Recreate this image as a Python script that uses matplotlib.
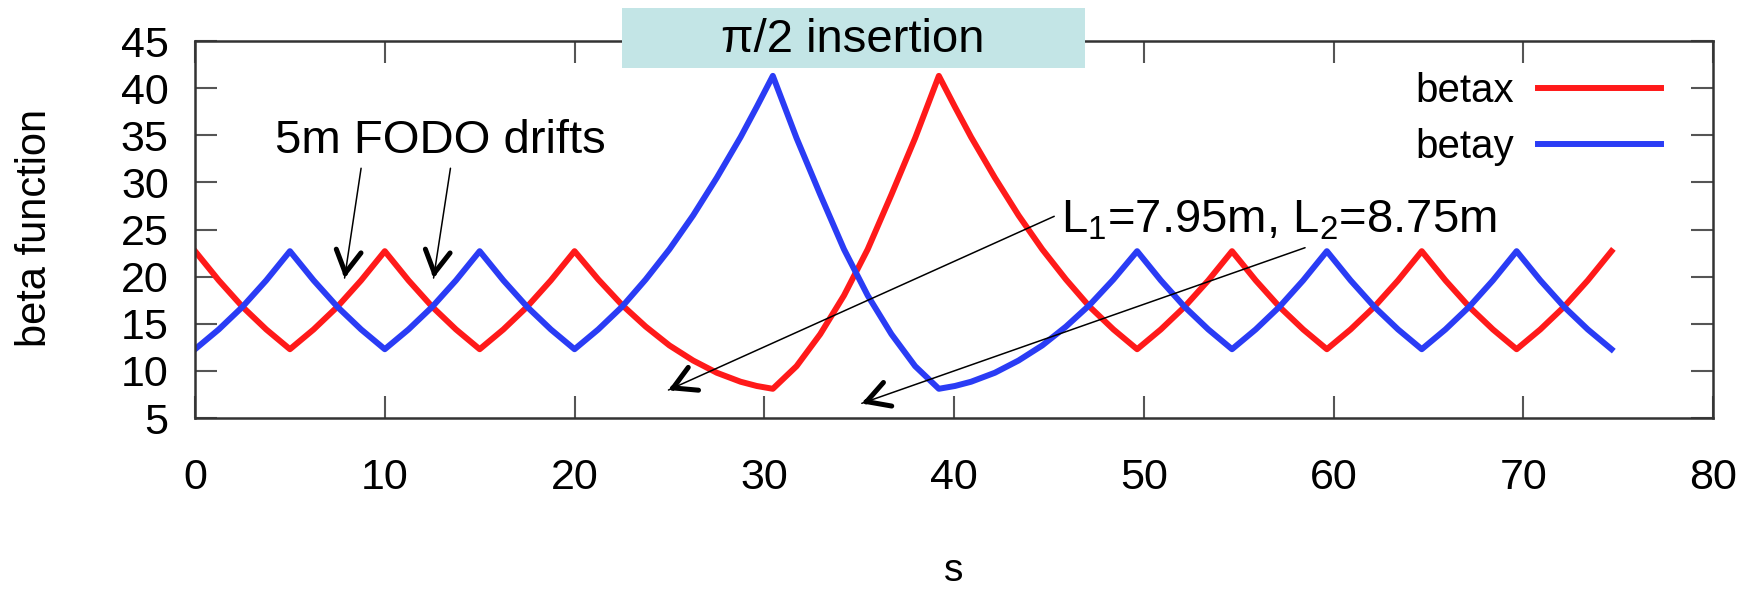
import matplotlib
matplotlib.use("Agg")
import matplotlib.pyplot as plt
from matplotlib.patches import Rectangle
import numpy as np

plt.rcParams["font.family"] = ["Liberation Sans", "DejaVu Sans"]
plt.rcParams["mathtext.fontset"] = "custom"
plt.rcParams["mathtext.rm"] = "Liberation Sans"
plt.rcParams["mathtext.it"] = "Liberation Sans"

# --- beta functions (s in m) ---
s = [0, 1.25, 2.5, 3.75, 5, 6.25, 7.5, 8.75, 10, 11.25, 12.5, 13.75, 15, 16.25, 17.5, 18.75, 20,
     21.25, 22.5, 23.75, 25, 26.25, 27.5, 28.75, 29.6, 30.45,
     31.7, 32.95, 34.2, 35.45, 36.7, 37.95, 39.2,
     40.05, 40.9, 42.15, 43.4, 44.65, 45.9, 47.15, 48.4, 49.65,
     50.9, 52.15, 53.4, 54.65, 55.9, 57.15, 58.4, 59.65, 60.9, 62.15, 63.4, 64.65,
     65.9, 67.15, 68.4, 69.65, 70.9, 72.15, 73.4, 74.65]
betax = [22.7, 19.6, 16.8, 14.4, 12.3, 14.4, 16.8, 19.6, 22.7, 19.6, 16.8, 14.4, 12.3, 14.4, 16.8, 19.6, 22.7,
         19.7, 17.0, 14.7, 12.7, 11.1, 9.8, 8.85, 8.4, 8.1,
         10.5, 13.9, 18.0, 22.9, 28.7, 34.7, 41.3,
         38.0, 34.8, 30.5, 26.5, 22.9, 19.7, 16.8, 14.4, 12.3,
         14.4, 16.8, 19.6, 22.7, 19.6, 16.8, 14.4, 12.3, 14.4, 16.8, 19.6, 22.7,
         19.6, 16.8, 14.4, 12.3, 14.4, 16.8, 19.6, 22.7]
betay = [12.3, 14.4, 16.8, 19.6, 22.7, 19.6, 16.8, 14.4, 12.3, 14.4, 16.8, 19.6, 22.7, 19.6, 16.8, 14.4, 12.3,
         14.4, 16.8, 19.7, 22.9, 26.5, 30.5, 34.8, 38.0, 41.3,
         34.7, 28.7, 22.9, 18.0, 13.9, 10.5, 8.1,
         8.4, 8.85, 9.8, 11.1, 12.7, 14.7, 17.0, 19.7, 22.7,
         19.6, 16.8, 14.4, 12.3, 14.4, 16.8, 19.6, 22.7, 19.6, 16.8, 14.4, 12.3,
         14.4, 16.8, 19.6, 22.7, 19.6, 16.8, 14.4, 12.3]

x_ticks = [0, 10, 20, 30, 40, 50, 60, 70, 80]
y_ticks = [5, 10, 15, 20, 25, 30, 35, 40, 45]

# annotation arrows: (start, tip) in data coords
fodo_arrows = [((8.75, 31.5), (7.88, 19.85)), ((13.46, 31.5), (12.57, 19.85))]
insert_arrows = [((45.28, 26.4), (24.95, 7.97)), ((58.5, 23.07), (35.14, 6.56))]

fig = plt.figure(figsize=(17.51, 5.90), dpi=100)
ax = fig.add_axes([0.1114, 0.2915, 0.8669, 0.6390])

ax.plot(s, betax, color="#ff1a1a", lw=4.3, label="betax")
ax.plot(s, betay, color="#2a3cf5", lw=4.3, label="betay")

ax.set_xlim(0, 80)
ax.set_ylim(5, 45)
ax.set_xticks(x_ticks)
ax.set_yticks(y_ticks)
ax.tick_params(direction="in", length=16, width=1.5, color="#555555",
               top=True, right=True, labelsize=31)
ax.tick_params(axis="x", pad=29)
ax.tick_params(axis="y", pad=19)
for sp in ax.spines.values():
    sp.set_color("#333333")
    sp.set_linewidth(1.8)

ax.set_xlabel("s", fontsize=28, va="baseline")
ax.xaxis.set_label_coords(0.5, -0.432)
ax.set_ylabel("beta function", fontsize=30)
ax.yaxis.set_label_coords(-0.092, 0.505)

ax.legend(loc="upper right", bbox_to_anchor=(0.9657, 0.918), frameon=False, markerfirst=False,
          fontsize=29, handlelength=3.05, handletextpad=0.6, labelspacing=0.45,
          borderpad=0, borderaxespad=0)

ax.text(4.21, 33.1, "5m FODO drifts", fontsize=34, ha="left", va="baseline")
ax.text(45.63, 24.73, r"L${}_1$=7.95m, L${}_2$=8.75m", fontsize=34, ha="left", va="baseline")


def arrow(start, tip):
    ax.annotate("", xy=tip, xytext=start,
                arrowprops=dict(arrowstyle="-", lw=1.1, color="k", shrinkA=0, shrinkB=0))
    p0 = ax.transData.transform(start)
    p1 = ax.transData.transform(tip)
    d = (p1 - p0) / np.hypot(*(p1 - p0))
    back = ax.transData.inverted().transform(p1 - 6 * d)
    ax.annotate("", xy=tip, xytext=back,
                arrowprops=dict(arrowstyle="->,head_length=0.8,head_width=0.45", lw=3.6,
                                color="k", shrinkA=0, shrinkB=0, mutation_scale=20))


for a, b in fodo_arrows + insert_arrows:
    arrow(a, b)

# header box over the top of the axes
fig.add_artist(Rectangle((0.3552, 0.8847), 0.2644, 0.1017, transform=fig.transFigure,
                         facecolor="#c3e5e6", edgecolor="none", zorder=5))
fig.text(0.4871, 0.932, "π/2 insertion", fontsize=34, ha="center", va="center", zorder=6)

fig.savefig("out.png", dpi=100)
